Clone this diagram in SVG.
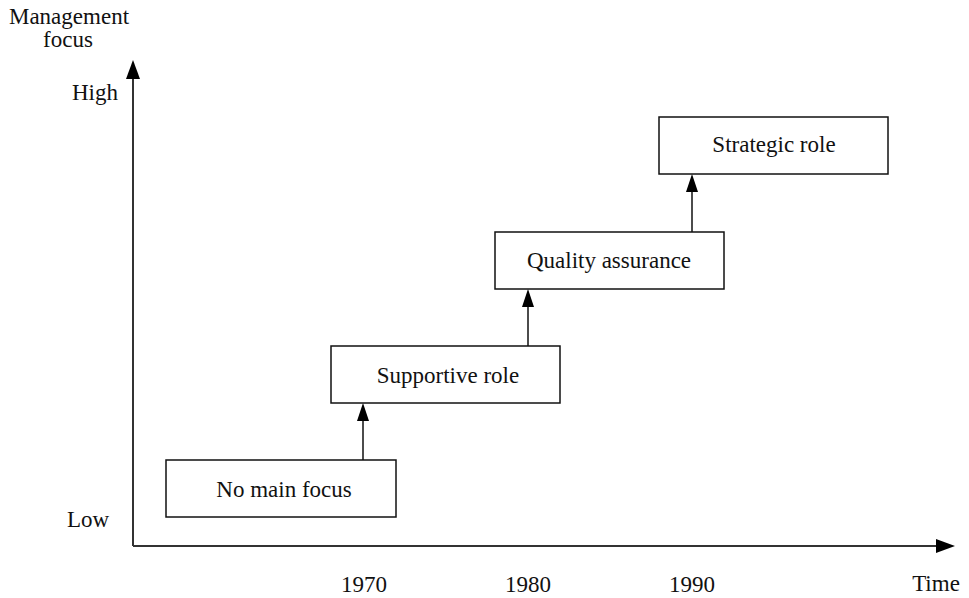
<svg xmlns="http://www.w3.org/2000/svg" width="969" height="598" viewBox="0 0 969 598">
<style>
text{font-family:"Liberation Serif","DejaVu Serif",serif;font-size:23px;fill:#111}
.box{fill:#fff;stroke:#111;stroke-width:1.5}
.ln{stroke:#111;stroke-width:1.5;fill:none}
.ax{stroke:#333;stroke-width:2;fill:none}
.c{text-anchor:middle}
</style>
<g id="axes">
<path class="ax" d="M133,546 V78"/>
<path d="M126,79 L133,60 L140,79 Z" fill="#000"/>
<path class="ax" d="M133,546 H937"/>
<path d="M936,539 L955,546 L936,553 Z" fill="#000"/>
<text class="c" x="69" y="24">Management</text>
<text class="c" x="68" y="47">focus</text>
<text x="72" y="100">High</text>
<text x="67" y="527">Low</text>
<text class="c" x="364" y="592">1970</text>
<text class="c" x="528" y="592">1980</text>
<text class="c" x="692" y="592">1990</text>
<text class="c" x="936" y="591">Time</text>
</g>
<g id="connectors">
<line class="ln" x1="363" y1="460" x2="363" y2="420"/>
<path d="M357,421 L363,403 L369,421 Z" fill="#000"/>
<line class="ln" x1="528" y1="346" x2="528" y2="306"/>
<path d="M522,307 L528,289 L534,307 Z" fill="#000"/>
<line class="ln" x1="692" y1="232" x2="692" y2="191"/>
<path d="M686,192 L692,174 L698,192 Z" fill="#000"/>
</g>
<g id="n1"><rect class="box" x="166" y="460" width="230" height="57"/><text class="c" x="284" y="497">No main focus</text></g>
<g id="n2"><rect class="box" x="331" y="346" width="229" height="57"/><text class="c" x="448" y="383">Supportive role</text></g>
<g id="n3"><rect class="box" x="495" y="232" width="229" height="57"/><text class="c" x="609" y="268">Quality assurance</text></g>
<g id="n4"><rect class="box" x="659" y="117" width="229" height="57"/><text class="c" x="774" y="152">Strategic role</text></g>
</svg>
